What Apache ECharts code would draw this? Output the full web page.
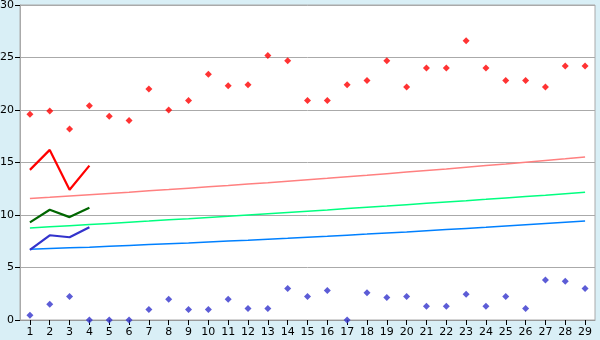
<!DOCTYPE html>
<html><head><meta charset="utf-8">
<script src="https://cdn.jsdelivr.net/npm/echarts@6/dist/echarts.min.js"></script>
<style>html,body{margin:0;padding:0;background:#d9eff6;}#c{width:600px;height:340px;}</style>
</head><body><div id="c"></div>
<script>
var categories = ['1','2','3','4','5','6','7','8','9','10','11','12','13','14','15','16','17','18','19','20','21','22','23','24','25','26','27','28','29'];
var yTicks = [0,5,10,15,20,25,30];
var redPoints = [19.6,19.9,18.2,20.4,19.4,19.0,22.0,20.0,20.9,23.4,22.3,22.4,25.2,24.7,20.9,20.9,22.4,22.8,24.7,22.2,24.0,24.0,26.6,24.0,22.8,22.8,22.2,24.2,24.2];
var bluePoints = [0.45,1.5,2.25,0,0,0,1.0,1.97,1.0,1.0,1.97,1.1,1.1,3.0,2.25,2.8,0,2.6,2.15,2.25,1.3,1.3,2.45,1.3,2.25,1.1,3.8,3.7,3.0];
var redLine = [14.3,16.2,12.4,14.7];
var greenLine = [9.3,10.5,9.8,10.7];
var blueLine = [6.67,8.07,7.88,8.83];
var pinkTrend = [11.58,11.69,11.81,11.93,12.05,12.17,12.30,12.42,12.55,12.68,12.81,12.95,13.08,13.22,13.36,13.50,13.65,13.79,13.94,14.09,14.24,14.39,14.55,14.71,14.86,15.03,15.19,15.35,15.52];
var greenTrend = [8.76,8.87,8.98,9.09,9.20,9.31,9.42,9.54,9.65,9.77,9.88,10.00,10.12,10.24,10.36,10.48,10.61,10.73,10.85,10.98,11.11,11.24,11.36,11.49,11.63,11.76,11.89,12.03,12.16];
var blueTrend = [6.73,6.80,6.87,6.94,7.02,7.10,7.18,7.26,7.34,7.43,7.52,7.60,7.70,7.79,7.89,7.98,8.08,8.18,8.29,8.39,8.50,8.61,8.72,8.83,8.95,9.07,9.19,9.31,9.43];

var chart = echarts.init(document.getElementById('c'), null, {renderer:'canvas'});
function lineS(data, color, w, z){
  return {type:'line', data:data, symbol:'none', lineStyle:{color:color, width:w}, itemStyle:{color:color}, z:z, animation:false, silent:true};
}
chart.setOption({
  backgroundColor:'#d9eff6',
  animation:false,
  grid:{left:20, right:5, top:5, bottom:20, containLabel:false, outerBoundsMode:'none', show:true, backgroundColor:'#ffffff', borderColor:'#aaaaaa', borderWidth:1},
  xAxis:{type:'category', data:categories, boundaryGap:true,
    axisLine:{show:true, lineStyle:{color:'#999999', width:1}},
    axisTick:{show:true, alignWithLabel:true, length:5, lineStyle:{color:'#000000'}},
    axisLabel:{color:'#000000', fontFamily:'DejaVu Sans', fontSize:11, margin:7, interval:0},
    splitLine:{show:false}},
  yAxis:{type:'value', min:yTicks[0], max:yTicks[yTicks.length-1], interval:5,
    axisLine:{show:true, lineStyle:{color:'#aaaaaa', width:1}},
    axisTick:{show:true, length:5, lineStyle:{color:'#000000'}},
    axisLabel:{color:'#000000', fontFamily:'DejaVu Sans', fontSize:11, margin:6},
    splitLine:{show:true, lineStyle:{color:'#aaaaaa', width:1}}},
  series:[
    lineS(pinkTrend,'#ff8080',1.5,2),
    lineS(greenTrend,'#00ff80',1.5,2),
    lineS(blueTrend,'#0080ff',1.5,2),
    lineS(redLine,'#ff0000',2.2,3),
    lineS(greenLine,'#006600',2.2,3),
    lineS(blueLine,'#3333cc',2.2,3),
    {type:'scatter', data:redPoints, symbol:'diamond', symbolSize:7, itemStyle:{color:'#ff0000'}, z:4},
    {type:'scatter', data:bluePoints, symbol:'diamond', symbolSize:7, itemStyle:{color:'#3333cc'}, z:4}
  ]
});
</script></body></html>
